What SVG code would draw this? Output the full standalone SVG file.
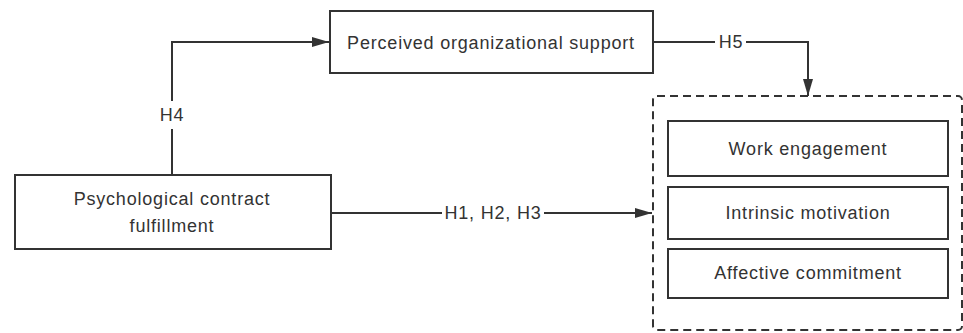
<svg xmlns="http://www.w3.org/2000/svg" width="963" height="333" viewBox="0 0 963 333">
<defs>
<style>
.box{fill:#fff;stroke:#333;stroke-width:2}
.t{font-family:"Liberation Sans",Arial,sans-serif;font-size:18px;letter-spacing:0.8px;fill:#333;text-anchor:middle}
.c{fill:none;stroke:#333;stroke-width:2}
.lbl{fill:#fff}
</style>
<marker id="ah" viewBox="0 0 17 10" refX="17" refY="5" markerWidth="17" markerHeight="10" markerUnits="userSpaceOnUse" orient="auto">
<path d="M0,0 L17,5 L0,10 z" fill="#333"/>
</marker>
</defs>
<rect width="963" height="333" fill="#fff"/>
<g id="connectors">
<path class="c" d="M172,175 V42 H329" marker-end="url(#ah)"/>
<path class="c" d="M653,42 H808 V96" marker-end="url(#ah)"/>
<path class="c" d="M331,213 H652" marker-end="url(#ah)"/>
<rect class="lbl" x="158" y="101" width="29" height="28"/>
<text class="t" x="172" y="121">H4</text>
<rect class="lbl" x="715" y="32" width="31" height="20"/>
<text class="t" x="731" y="48">H5</text>
<rect class="lbl" x="442" y="202" width="102" height="24"/>
<text class="t" x="493" y="219">H1, H2, H3</text>
</g>
<g id="pcf">
<rect class="box" x="15" y="175" width="316" height="74"/>
<text class="t" x="172" y="205">Psychological contract</text>
<text class="t" x="172" y="232">fulfillment</text>
</g>
<g id="pos">
<rect class="box" x="330" y="11" width="323" height="62"/>
<text class="t" x="491" y="49">Perceived organizational support</text>
</g>
<g id="outcomes">
<rect x="653" y="96" width="309" height="234" rx="4" fill="none" stroke="#333" stroke-width="2" stroke-dasharray="8,5"/>
</g>
<g id="we">
<rect class="box" x="668" y="121" width="280" height="55"/>
<text class="t" x="808" y="155">Work engagement</text>
</g>
<g id="im">
<rect class="box" x="668" y="187" width="280" height="52"/>
<text class="t" x="808" y="219">Intrinsic motivation</text>
</g>
<g id="ac">
<rect class="box" x="668" y="249" width="280" height="49"/>
<text class="t" x="808" y="279">Affective commitment</text>
</g>
</svg>
